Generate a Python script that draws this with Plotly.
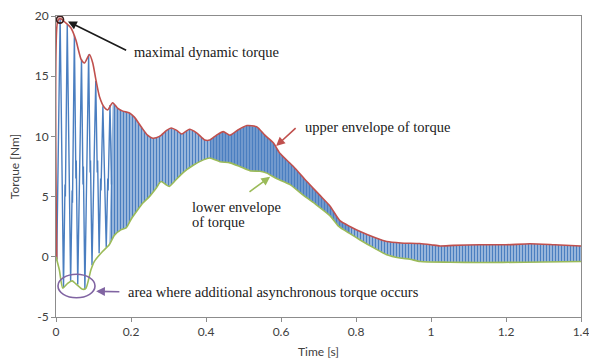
import plotly.graph_objects as go

# ---- data -------------------------------------------------------------
# upper envelope of the torque signal (time [s], torque [Nm])
t_upper = [0.002, 0.004, 0.0107, 0.027, 0.040, 0.053, 0.067, 0.076, 0.089, 0.098,
           0.107, 0.116, 0.129, 0.138, 0.151, 0.164, 0.178, 0.196, 0.209, 0.227,
           0.244, 0.258, 0.276, 0.295, 0.307, 0.322, 0.335, 0.356, 0.375, 0.397,
           0.410, 0.428, 0.446, 0.464, 0.486, 0.509, 0.535, 0.557, 0.580, 0.597,
           0.633, 0.669, 0.704, 0.731, 0.757, 0.785, 0.811, 0.850, 0.882, 0.920,
           0.970, 1.000, 1.024, 1.060, 1.130, 1.200, 1.264, 1.330, 1.400]
v_upper = [-0.2, 19.5, 19.8, 19.4, 19.0, 18.0, 16.4, 16.1, 16.8, 16.1,
           14.6, 13.3, 12.4, 12.2, 12.8, 12.35, 12.1, 11.95, 11.6, 10.8,
           10.1, 9.85, 10.0, 10.5, 10.7, 10.5, 10.2, 10.6, 10.3, 9.7,
           9.7, 10.1, 10.4, 10.1, 10.55, 10.9, 10.8, 10.1, 9.45, 8.6,
           7.5, 6.25, 5.1, 4.2, 3.0, 2.5, 2.1, 1.6, 1.27, 1.15,
           1.1, 1.0, 0.9, 0.95, 1.0, 1.0, 1.08, 1.0, 0.9]

# lower envelope of the torque signal
t_lower = [0.000, 0.009, 0.018, 0.031, 0.043, 0.053, 0.071, 0.080, 0.093, 0.102,
           0.124, 0.142, 0.156, 0.173, 0.187, 0.200, 0.218, 0.231, 0.249, 0.267,
           0.280, 0.293, 0.302, 0.320, 0.339, 0.366, 0.393, 0.410, 0.437, 0.464,
           0.490, 0.517, 0.544, 0.562, 0.588, 0.624, 0.660, 0.695, 0.731, 0.755,
           0.785, 0.811, 0.850, 0.882, 0.917, 0.944, 0.971, 1.050, 1.130, 1.250,
           1.400]
v_lower = [0.0, -1.1, -2.6, -2.2, -2.0, -2.25, -2.7, -2.6, -1.1, -0.4,
           0.44, 1.0, 1.8, 2.24, 2.4, 3.1, 3.9, 4.45, 5.0, 5.7,
           6.25, 6.0, 5.85, 6.4, 7.0, 7.6, 8.05, 8.2, 7.9, 7.8,
           7.5, 7.15, 7.1, 6.95, 6.5, 6.0, 5.1, 4.3, 3.4, 2.5,
           1.9, 1.4, 0.7, 0.17, -0.1, -0.2, -0.39, -0.45, -0.47, -0.45,
           -0.39]

# torque during the first swings after switching on
t_start = [0.000, 0.002, 0.011, 0.015, 0.016, 0.020, 0.024, 0.025, 0.030, 0.034,
           0.035, 0.039, 0.043, 0.044, 0.049, 0.053, 0.054, 0.058, 0.062, 0.063,
           0.068, 0.072, 0.073, 0.077, 0.081, 0.082, 0.087, 0.091, 0.092, 0.096,
           0.100, 0.101, 0.106, 0.110, 0.111, 0.115, 0.119, 0.120, 0.125, 0.129,
           0.130, 0.134, 0.138, 0.139, 0.144, 0.148]
v_start = [0.0, -0.3, 19.8, 8.0, 9.5, -2.6, 6.0, 5.0, 19.3, 7.5,
           9.0, -2.1, 5.5, 4.5, 18.4, 6.5, 8.0, -2.3, 5.0, 4.0,
           16.4, 6.0, 7.5, -2.7, 5.0, 4.0, 16.8, 7.0, 8.0, -0.7,
           6.0, 5.0, 14.6, 7.0, 8.0, 0.3, 6.5, 5.5, 12.5, 7.0,
           8.0, 0.8, 6.5, 5.5, 12.6, 6.0]

# maximal dynamic torque
t_max = [0.0107]
v_max = [19.7]

# time spans of the oscillation band and their stroke density
band_edges = [0.14, 0.41, 0.785, 1.4]
band_density = [0.72, 0.86, 0.72]

x_ticks = [0, 0.2, 0.4, 0.6, 0.8, 1, 1.2, 1.4]
x_tick_labels = ["0", "0.2", "0.4", "0.6", "0.8", "1", "1.2", "1.4"]
y_ticks = [-5, 0, 5, 10, 15, 20]
y_tick_labels = ["-5", "0", "5", "10", "15", "20"]

# ---- styling ----------------------------------------------------------
BLUE = "#4a7ec0"
RED = "#c0504d"
GREEN = "#9bbb59"
PURPLE = "#8064a2"
AXIS = "#8c8c8c"
SERIF = "Liberation Serif"
SANS = "Lato"

fig = go.Figure()

# fast oscillation: band between the envelopes drawn as vertical strokes
for a, b, dens in zip(band_edges[:-1], band_edges[1:], band_density):
    up_pts = [(t, v) for t, v in zip(t_upper, v_upper) if a <= t <= b]
    lo_pts = [(t, v) for t, v in zip(t_lower, v_lower) if a <= t <= b]
    band_x = [p[0] for p in up_pts] + [p[0] for p in reversed(lo_pts)]
    band_y = [p[1] for p in up_pts] + [p[1] for p in reversed(lo_pts)]
    fig.add_trace(go.Scatter(
        x=band_x, y=band_y, mode="none", fill="toself",
        fillcolor="rgba(255,255,255,0)",
        fillpattern=dict(shape="|", fgcolor=BLUE, bgcolor="rgba(255,255,255,0)",
                         size=3, solidity=dens, fillmode="replace"),
        hoverinfo="skip", showlegend=False))

# first swings of the torque
fig.add_trace(go.Scatter(x=t_start, y=v_start, mode="lines",
                         line=dict(color=BLUE, width=1.4), showlegend=False))

# envelopes
fig.add_trace(go.Scatter(x=t_upper, y=v_upper, mode="lines",
                         line=dict(color=RED, width=1.6, shape="spline", smoothing=0.6),
                         showlegend=False))
fig.add_trace(go.Scatter(x=t_lower, y=v_lower, mode="lines",
                         line=dict(color=GREEN, width=1.6, shape="spline", smoothing=0.6),
                         showlegend=False))

# marker at the maximal dynamic torque
fig.add_trace(go.Scatter(x=t_max, y=v_max, mode="markers",
                         marker=dict(symbol="circle-open", size=7, color="#3b1c1c",
                                     line=dict(width=1.6)),
                         showlegend=False))

# region of the additional asynchronous torque
fig.add_shape(type="circle", xref="x", yref="y",
              x0=0.0053, x1=0.104, y0=-3.4, y1=-1.45,
              line=dict(color=PURPLE, width=1.6))

def label(text, x, y):
    fig.add_annotation(x=x, y=y, text=text, showarrow=False, xanchor="left",
                       yanchor="middle", font=dict(family=SERIF, size=14.5, color="#1a1a1a"))

def arrow(x, y, ax, ay, color):
    fig.add_annotation(x=x, y=y, ax=ax, ay=ay, xref="x", yref="y", axref="x", ayref="y",
                       text="", showarrow=True, arrowhead=2, arrowsize=1.1,
                       arrowwidth=1.6, arrowcolor=color)

label("maximal dynamic torque", 0.203, 17.0)
arrow(0.032, 19.55, 0.191, 17.1, "#1a1a1a")

label("upper envelope of torque", 0.659, 10.8)
arrow(0.587, 9.2, 0.643, 10.8, RED)

label("lower envelope", 0.357, 4.15)
label("of torque", 0.357, 2.85)
arrow(0.571, 6.65, 0.512, 5.3, GREEN)

label("area where additional asynchronous torque occurs", 0.187, -2.9)
arrow(0.107, -2.87, 0.173, -2.9, PURPLE)

fig.update_layout(
    width=589, height=362,
    margin=dict(l=56, r=8, t=16, b=45, autoexpand=False),
    paper_bgcolor="white", plot_bgcolor="white",
    font=dict(family=SANS, size=12, color="#404040"),
    showlegend=False,
)
fig.update_xaxes(range=[0, 1.4], tickvals=x_ticks, ticktext=x_tick_labels,
                 ticklabeloverflow="allow", automargin=False,
                 showgrid=False, zeroline=False, showline=True, linecolor=AXIS,
                 linewidth=1, mirror=True, ticks="outside", ticklen=4, tickcolor=AXIS,
                 title=dict(text="Time [s]", font=dict(size=12), standoff=9))
fig.update_yaxes(range=[-5, 20], tickvals=y_ticks, ticktext=y_tick_labels,
                 automargin=False,
                 showgrid=False, zeroline=False, showline=True, linecolor=AXIS,
                 linewidth=1, mirror=True, ticks="outside", ticklen=4, tickcolor=AXIS,
                 title=dict(text="Torque [Nm]", font=dict(size=12), standoff=12))

fig.write_html("out.html")
